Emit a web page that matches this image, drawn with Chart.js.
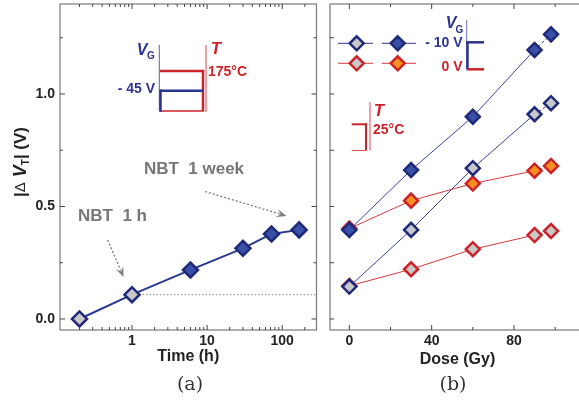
<!DOCTYPE html>
<html>
<head>
<meta charset="utf-8">
<script src="https://cdn.jsdelivr.net/npm/chart.js@4.4.1/dist/chart.umd.min.js"></script>
<style>
html, body { margin: 0; padding: 0; background: #fff; width: 579px; height: 404px; overflow: hidden; }
canvas { position: absolute; left: 0; top: 0; }
.cap { position: absolute; top: 372px; width: 60px; text-align: center; font-family: "DejaVu Serif", "Liberation Serif", serif; font-size: 19px; color: #333; }
</style>
</head>
<body>
<canvas id="chartA" width="579" height="404"></canvas>
<canvas id="chartB" width="620" height="404"></canvas>
<div class="cap" style="left:160px">(a)</div>
<div class="cap" style="left:423px">(b)</div>
<script>
// Panel (a): NBT stress vs time
const timeH = [0.2, 1, 6, 30, 72, 168];
const dvtTime = [0.0, 0.108, 0.218, 0.314, 0.378, 0.396];
const timeTicks = [1, 10, 100];

// Panel (b): dVT vs dose
const dose = [0, 30, 60, 90, 98];
const dvtNeg10Irr = [0.396, 0.662, 0.899, 1.196, 1.265];
const dvtNeg10Ref = [0.144, 0.396, 0.670, 0.910, 0.959];
const dvtZeroIrr = [0.402, 0.526, 0.602, 0.659, 0.680];
const dvtZeroRef = [0.147, 0.221, 0.310, 0.373, 0.391];
const doseTicks = [0, 40, 80];
const dvtTicks = [0, 0.5, 1.0];

const FONT = '"Liberation Sans", Arial, Helvetica, sans-serif';
const NAVY = '#1f2a7a';
const BLUE = '#3a4fa8';
const GRAY = '#c8c8c8';
const RED = '#cc2229';
const ORANGE = '#f7901e';
const AXIS = '#7a7a7a';

function pts(xs, ys) { return xs.map((x, i) => ({ x: x, y: ys[i] })); }

function line(ctx, x1, y1, x2, y2, color, w) {
    ctx.save();
    ctx.strokeStyle = color;
    ctx.lineWidth = w;
    ctx.beginPath();
    ctx.moveTo(x1, y1);
    ctx.lineTo(x2, y2);
    ctx.stroke();
    ctx.restore();
}

function text(ctx, str, x, y, font, color, align) {
    ctx.save();
    ctx.font = font;
    ctx.fillStyle = color;
    ctx.textAlign = align || 'left';
    ctx.textBaseline = 'middle';
    ctx.fillText(str, x, y);
    ctx.restore();
}

function diamond(ctx, x, y, r, fill, stroke) {
    ctx.save();
    ctx.beginPath();
    ctx.moveTo(x, y - r); ctx.lineTo(x + r, y); ctx.lineTo(x, y + r); ctx.lineTo(x - r, y);
    ctx.closePath();
    ctx.fillStyle = fill; ctx.fill();
    ctx.lineWidth = 2.5; ctx.strokeStyle = stroke; ctx.stroke();
    ctx.restore();
}

function arrow(ctx, x1, y1, x2, y2) {
    const a = Math.atan2(y2 - y1, x2 - x1);
    const hl = 10, hw = 4;
    ctx.save();
    ctx.strokeStyle = '#7a7a7a';
    ctx.lineWidth = 1.3;
    ctx.setLineDash([2, 2]);
    ctx.beginPath();
    ctx.moveTo(x1, y1);
    ctx.lineTo(x2 - hl * 0.7 * Math.cos(a), y2 - hl * 0.7 * Math.sin(a));
    ctx.stroke();
    ctx.setLineDash([]);
    ctx.fillStyle = '#7a7a7a';
    ctx.beginPath();
    ctx.moveTo(x2, y2);
    ctx.lineTo(x2 - hl * Math.cos(a) + hw * Math.sin(a), y2 - hl * Math.sin(a) - hw * Math.cos(a));
    ctx.lineTo(x2 - hl * 0.6 * Math.cos(a), y2 - hl * 0.6 * Math.sin(a));
    ctx.lineTo(x2 - hl * Math.cos(a) - hw * Math.sin(a), y2 - hl * Math.sin(a) + hw * Math.cos(a));
    ctx.closePath();
    ctx.fill();
    ctx.restore();
}

// frame + inward tick marks on all four sides
function drawFrame(chart, xMarks, yMarks) {
    const ctx = chart.ctx;
    const { left, right, top, bottom } = chart.chartArea;
    const xs = chart.scales.x, ys = chart.scales.y;
    ctx.save();
    ctx.strokeStyle = AXIS;
    ctx.lineWidth = 1.2;
    ctx.strokeRect(left, top, right - left, bottom - top);
    ctx.strokeStyle = '#444';
    ctx.lineWidth = 1;
    xMarks.forEach(m => {
        const px = xs.getPixelForValue(m.v);
        if (px < left + 1 || px > right - 1) return;
        ctx.beginPath();
        ctx.moveTo(px, bottom); ctx.lineTo(px, bottom - m.len);
        ctx.moveTo(px, top); ctx.lineTo(px, top + m.len);
        ctx.stroke();
    });
    yMarks.forEach(m => {
        const py = ys.getPixelForValue(m.v);
        ctx.beginPath();
        ctx.moveTo(left, py); ctx.lineTo(left + m.len, py);
        ctx.moveTo(right, py); ctx.lineTo(right - m.len, py);
        ctx.stroke();
    });
    ctx.restore();
}

const logMarks = [];
for (let e = -1; e <= 2; e++) {
    for (let k = 1; k <= 9; k++) logMarks.push({ v: k * Math.pow(10, e), len: k === 1 ? 5 : 3 });
}
const yMarksA = [0, 0.25, 0.5, 0.75, 1.0, 1.25].map(v => ({ v: v, len: v % 0.5 === 0 ? 5 : 3 }));
const yMarksB = [0, 0.25, 0.5, 0.75, 1.0, 1.25].map(v => ({ v: v, len: 4 }));
const doseMarks = [0, 20, 40, 60, 80, 100].map(v => ({ v: v, len: v % 40 === 0 ? 5 : 3 }));

const tickFont = { family: FONT, size: 14, weight: 'bold' };
const titleFont = { family: FONT, size: 16, weight: 'bold' };

function fitX(s) { s.height = 42; s.paddingLeft = 0; s.paddingRight = 0; }
function fitY(w) { return s => { s.width = w; s.paddingTop = 0; s.paddingBottom = 0; }; }

const panelA = {
    id: 'panelA',
    beforeDatasetsDraw(chart) {
        const ctx = chart.ctx;
        const xs = chart.scales.x, ys = chart.scales.y;
        // dotted level of the 1 h point
        ctx.save();
        ctx.strokeStyle = '#8a8a8a';
        ctx.lineWidth = 1;
        ctx.setLineDash([1.5, 2]);
        ctx.beginPath();
        ctx.moveTo(xs.getPixelForValue(timeH[1]), ys.getPixelForValue(dvtTime[1]));
        ctx.lineTo(chart.chartArea.right, ys.getPixelForValue(dvtTime[1]));
        ctx.stroke();
        ctx.restore();
    },
    afterDraw(chart) {
        const ctx = chart.ctx;
        drawFrame(chart, logMarks, yMarksA);

        // y axis title |dV_T| (V)
        ctx.save();
        ctx.translate(21, 162);
        ctx.rotate(-Math.PI / 2);
        ctx.fillStyle = '#222';
        ctx.textBaseline = 'middle';
        const parts = [
            { s: '|', f: 'bold 17px ' + FONT, dy: 0 },
            { s: '\u0394', f: '15px ' + FONT, dy: 0 },
            { s: ' V', f: 'italic bold 18px ' + FONT, dy: 0 },
            { s: 'T', f: 'bold 10px ' + FONT, dy: 5 },
            { s: '| (V)', f: 'bold 17px ' + FONT, dy: 0 }
        ];
        let total = 0;
        parts.forEach(p => { ctx.font = p.f; p.w = ctx.measureText(p.s).width; total += p.w; });
        let x = -total / 2;
        parts.forEach(p => { ctx.font = p.f; ctx.fillText(p.s, x, p.dy); x += p.w; });
        ctx.restore();

        // annotations
        text(ctx, 'NBT  1 h', 112.5, 216, 'bold 17px ' + FONT, '#777', 'center');
        text(ctx, 'NBT  1 week', 194, 169.5, 'bold 17px ' + FONT, '#777', 'center');
        arrow(ctx, 107.7, 240, 123.5, 277);
        arrow(ctx, 205, 191.5, 286.5, 216);

        // inset: VG and T profile
        line(ctx, 159.3, 45, 159.3, 111, '#5a60b0', 1);
        line(ctx, 206, 45, 206, 112, '#f2a0a4', 2);
        line(ctx, 160, 111, 204, 111, RED, 1.5);
        line(ctx, 160, 71, 204.2, 71, RED, 2.5);
        line(ctx, 203, 70, 203, 111, RED, 2.5);
        line(ctx, 160, 90.7, 203, 90.7, '#2b3590', 2.5);
        line(ctx, 160.5, 89.5, 160.5, 112, '#2b3590', 2.5);
        text(ctx, 'V', 142, 51, 'italic bold 16px ' + FONT, '#2b3590', 'center');
        text(ctx, 'G', 151, 56, 'bold 10px ' + FONT, '#2b3590', 'center');
        text(ctx, '- 45 V', 155, 89, 'bold 14px ' + FONT, '#2b3590', 'right');
        text(ctx, 'T', 216, 49, 'italic bold 17px ' + FONT, RED, 'center');
        text(ctx, '175\u00B0C', 208, 72, 'bold 14px ' + FONT, RED, 'left');
    }
};

new Chart(document.getElementById('chartA'), {
    type: 'line',
    data: {
        datasets: [{
            data: pts(timeH, dvtTime),
            borderColor: '#2a3990',
            borderWidth: 2,
            pointStyle: 'rectRot',
            pointRadius: 7.5,
            pointBorderWidth: 2.5,
            pointBorderColor: NAVY,
            pointBackgroundColor: ctx => (timeH[ctx.dataIndex] <= 1 ? GRAY : BLUE)
        }]
    },
    options: {
        responsive: false,
        animation: false,
        events: [],
        layout: { autoPadding: false, padding: { left: 0, top: 4, right: 262.5, bottom: 32 } },
        plugins: { legend: { display: false }, tooltip: { enabled: false } },
        scales: {
            x: {
                type: 'logarithmic', min: 0.11, max: 286,
                grid: { display: false, drawTicks: false },
                border: { display: false },
                afterBuildTicks: s => { s.ticks = timeTicks.map(v => ({ value: v })); },
                afterFit: fitX,
                ticks: { callback: v => String(v), font: tickFont, color: '#222', padding: 3, maxRotation: 0, autoSkip: false },
                title: { display: true, text: 'Time (h)', font: titleFont, color: '#222', padding: { top: 0, bottom: 6 } }
            },
            y: {
                min: -0.049, max: 1.4,
                grid: { display: false, drawTicks: false },
                border: { display: false },
                afterBuildTicks: s => { s.ticks = dvtTicks.map(v => ({ value: v })); },
                afterFit: fitY(60),
                ticks: { callback: v => v.toFixed(1), font: tickFont, color: '#222', padding: 5 }
            }
        }
    },
    plugins: [panelA]
});

const panelB = {
    id: 'panelB',
    afterDraw(chart) {
        const ctx = chart.ctx;
        drawFrame(chart, doseMarks, yMarksB);

        // legend glyphs
        line(ctx, 338, 43.3, 373, 43.3, '#5a5fa8', 1.2);
        line(ctx, 381.7, 43.3, 416, 43.3, '#5a5fa8', 1.2);
        line(ctx, 338, 63.3, 373, 63.3, '#e06466', 1.2);
        line(ctx, 381.7, 63.3, 416, 63.3, '#e06466', 1.2);
        diamond(ctx, 356.7, 43.3, 7, GRAY, NAVY);
        diamond(ctx, 397.7, 43.3, 7, BLUE, NAVY);
        diamond(ctx, 356.7, 63.3, 7, GRAY, RED);
        diamond(ctx, 397.7, 63.3, 7, ORANGE, RED);

        // VG inset
        line(ctx, 466.7, 20, 466.7, 70, '#6a70b4', 1);
        line(ctx, 466.5, 42.3, 484, 42.3, '#2b3590', 2.5);
        line(ctx, 467.5, 41, 467.5, 69, '#2b3590', 2.5);
        line(ctx, 467, 69.3, 484, 69.3, RED, 2.5);
        text(ctx, 'V', 451, 24, 'italic bold 16px ' + FONT, '#2b3590', 'center');
        text(ctx, 'G', 459.5, 30, 'bold 10px ' + FONT, '#2b3590', 'center');
        text(ctx, '- 10 V', 462.5, 43.3, 'bold 14px ' + FONT, '#2b3590', 'right');
        text(ctx, '0 V', 462.5, 67.5, 'bold 14px ' + FONT, RED, 'right');

        // T inset
        line(ctx, 370, 102, 370, 150.5, '#d84a4e', 1);
        line(ctx, 351.7, 124.3, 367, 124.3, RED, 2);
        line(ctx, 366, 123.3, 366, 150.5, RED, 2);
        line(ctx, 351.7, 150.5, 366, 150.5, '#d84a4e', 1);
        text(ctx, 'T', 379, 111, 'italic bold 17px ' + FONT, RED, 'center');
        text(ctx, '25\u00B0C', 373, 130, 'bold 14px ' + FONT, RED, 'left');
    }
};

const lastDash = { borderDash: ctx => (ctx.p1DataIndex === dose.length - 1 ? [3, 2] : undefined) };

function doseSet(values, fill, stroke, lineColor) {
    return {
        data: pts(dose, values),
        borderColor: lineColor,
        borderWidth: 1,
        segment: lastDash,
        pointStyle: 'rectRot',
        pointRadius: 7,
        pointBorderWidth: 2.5,
        pointBorderColor: stroke,
        pointBackgroundColor: fill
    };
}

new Chart(document.getElementById('chartB'), {
    type: 'line',
    data: {
        datasets: [
            doseSet(dvtNeg10Irr, BLUE, NAVY, '#3c419a'),
            doseSet(dvtNeg10Ref, GRAY, NAVY, '#3c419a'),
            doseSet(dvtZeroIrr, ORANGE, RED, '#d8383c'),
            doseSet(dvtZeroRef, GRAY, RED, '#d8383c')
        ]
    },
    options: {
        responsive: false,
        animation: false,
        events: [],
        layout: { autoPadding: false, padding: { left: 330, top: 4, right: 35, bottom: 32 } },
        plugins: { legend: { display: false }, tooltip: { enabled: false } },
        scales: {
            x: {
                type: 'linear', min: -9.4, max: 114.5,
                grid: { display: false, drawTicks: false },
                border: { display: false },
                afterBuildTicks: s => { s.ticks = doseTicks.map(v => ({ value: v })); },
                afterFit: fitX,
                ticks: { font: tickFont, color: '#222', padding: 3, maxRotation: 0, autoSkip: false },
                title: { display: true, text: 'Dose (Gy)', font: titleFont, color: '#222', padding: { top: 0, bottom: 3 } }
            },
            y: {
                min: -0.049, max: 1.4,
                grid: { display: false, drawTicks: false },
                border: { display: false },
                ticks: { display: false },
                afterFit: fitY(0)
            }
        }
    },
    plugins: [panelB]
});
</script>
</body>
</html>
